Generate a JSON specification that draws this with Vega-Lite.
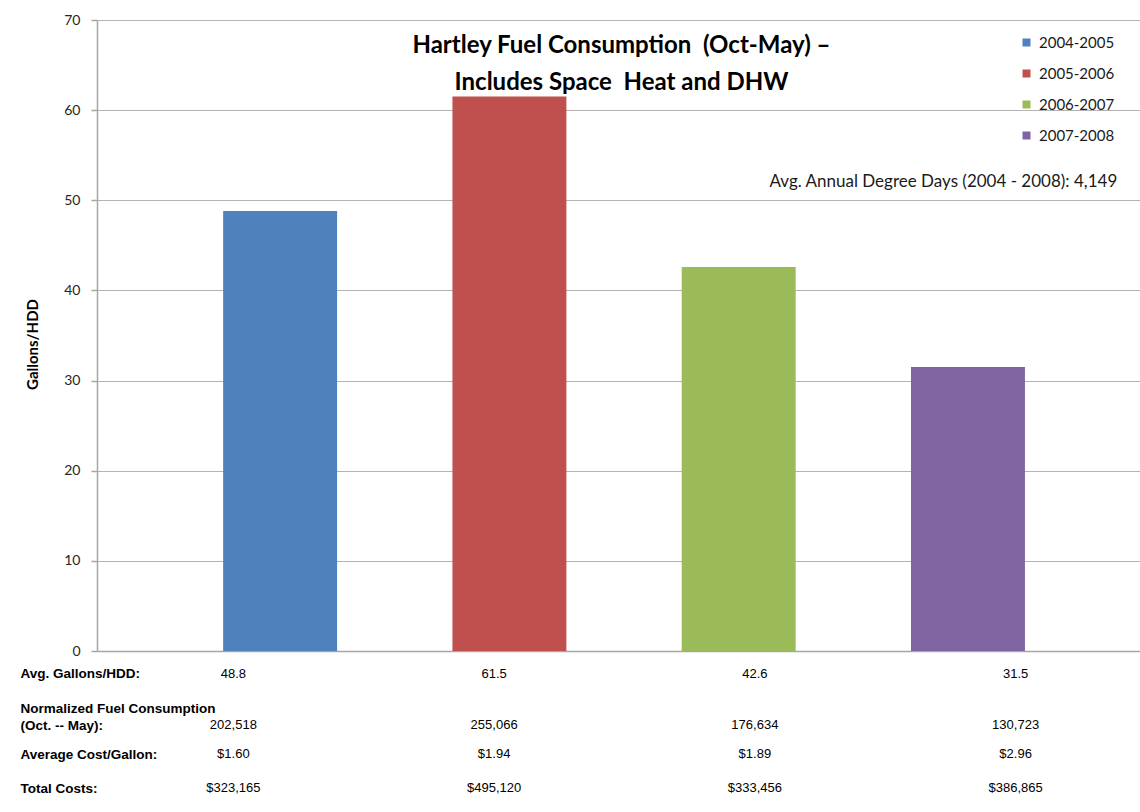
{
  "$schema": "https://vega.github.io/schema/vega-lite/v6.json",
  "padding": {"left": 20, "top": 13, "right": 0, "bottom": 0},
  "autosize": {"type": "pad"},
  "spacing": 3,
  "background": "white",
  "config": {"view": {"stroke": null}, "font": "Lato"},
  "datasets": {
    "seasons": [
      {"season": "2004-2005", "avg_gal_hdd": 48.8, "normalized": 202518, "cost_per_gal": 1.60, "total_cost": 323165},
      {"season": "2005-2006", "avg_gal_hdd": 61.5, "normalized": 255066, "cost_per_gal": 1.94, "total_cost": 495120},
      {"season": "2006-2007", "avg_gal_hdd": 42.6, "normalized": 176634, "cost_per_gal": 1.89, "total_cost": 333456},
      {"season": "2007-2008", "avg_gal_hdd": 31.5, "normalized": 130723, "cost_per_gal": 2.96, "total_cost": 386865}
    ],
    "note": [
      {"season": "2007-2008", "value": 52, "label": "Avg. Annual Degree Days (2004 - 2008): 4,149"}
    ]
  },
  "resolve": {"scale": {"x": "independent", "y": "independent"}},
  "vconcat": [
    {
      "width": 1043,
      "height": 631,
      "title": {
        "text": ["Hartley Fuel Consumption\u00a0 (Oct-May) –", "Includes Space\u00a0 Heat and DHW"],
        "font": "Lato",
        "fontSize": 24,
        "fontWeight": "bold",
        "color": "#000000",
        "lineHeight": 37,
        "anchor": "middle",
        "offset": -82,
        "dx": 3
      },
      "layer": [
        {
          "data": {"name": "seasons"},
          "mark": {"type": "bar"},
          "encoding": {
            "x": {
              "field": "season",
              "type": "nominal",
              "scale": {"domain": ["2004-2005", "2005-2006", "2006-2007", "2007-2008"], "paddingInner": 0.503, "paddingOuter": 0.526, "align": 0.523},
              "axis": {"title": null, "labels": false, "ticks": false, "grid": false, "domain": true, "domainColor": "#a6a6a6", "domainWidth": 1.5}
            },
            "y": {
              "field": "avg_gal_hdd",
              "type": "quantitative",
              "scale": {"domain": [0, 70], "nice": false},
              "axis": {
                "title": "Gallons/HDD",
                "titleFont": "Lato",
                "titleFontSize": 15,
                "titleFontWeight": "bold",
                "titleColor": "#000000",
                "titlePadding": 23,
                "titleY": 324,
                "values": [0, 10, 20, 30, 40, 50, 60, 70],
                "labelFont": "Lato",
                "labelFontSize": 14,
                "labelColor": "#262626",
                "labelPadding": 11,
                "tickSize": 6,
                "tickColor": "#a6a6a6",
                "tickWidth": 1.5,
                "domainColor": "#a6a6a6",
                "domainWidth": 1.5,
                "grid": true,
                "gridColor": "#b3b3b3",
                "gridWidth": 1.2
              }
            },
            "color": {
              "field": "season",
              "type": "nominal",
              "scale": {"domain": ["2004-2005", "2005-2006", "2006-2007", "2007-2008"], "range": ["#4F81BD", "#C0504D", "#9BBB59", "#8064A2"]},
              "legend": {
                "orient": "none",
                "legendX": 922,
                "legendY": 15,
                "title": null,
                "symbolType": "square",
                "symbolSize": 64,
                "symbolStrokeWidth": 0,
                "labelFont": "Lato",
                "labelFontSize": 15,
                "labelColor": "#1a1a1a",
                "labelOffset": 5,
                "rowPadding": 15
              }
            }
          }
        },
        {
          "data": {"name": "note"},
          "mark": {"type": "text", "align": "right", "baseline": "middle", "font": "Lato", "fontSize": 17, "color": "#1a1a1a"},
          "encoding": {
            "x": {"field": "season", "type": "nominal", "bandPosition": 1.81},
            "y": {"field": "value", "type": "quantitative"},
            "text": {"field": "label"}
          }
        }
      ]
    },
    {
      "width": 1043,
      "height": 149,
      "data": {"name": "seasons"},
      "encoding": {
        "x": {
          "field": "season",
          "type": "nominal",
          "scale": {"domain": ["2004-2005", "2005-2006", "2006-2007", "2007-2008"], "paddingInner": 0.503, "paddingOuter": 0.526, "align": 0.523},
          "axis": null
        }
      },
      "layer": [
        {
          "mark": {"type": "text", "font": "Liberation Sans", "fontSize": 13, "color": "#000000", "baseline": "middle", "dy": -6},
          "encoding": {
            "y": {
              "datum": "Avg. Gallons/HDD:",
              "type": "nominal",
              "scale": {"domain": ["Avg. Gallons/HDD:", "Normalized Fuel Consumption (Oct. -- May):", "Average Cost/Gallon:", "Total Costs:"], "padding": 0.5},
              "axis": {
                "title": null,
                "domain": false,
                "ticks": false,
                "tickSize": 0,
                "grid": false,
                "labelAlign": "left",
                "labelBaseline": "middle",
                "labelPadding": 77,
                "labelLimit": 400,
                "labelFont": "Liberation Sans",
                "labelFontSize": 13.5,
                "labelFontWeight": "bold",
                "labelColor": "#000000",
                "labelLineHeight": 17,
                "labelOffset": {
                  "condition": [
                    {"test": "datum.value == 'Normalized Fuel Consumption (Oct. -- May):'", "value": -8.5},
                    {"test": "datum.value == 'Avg. Gallons/HDD:'", "value": -6},
                    {"test": "datum.value == 'Total Costs:'", "value": -3}
                  ],
                  "value": 0
                },
                "labelExpr": "datum.label == 'Normalized Fuel Consumption (Oct. -- May):' ? ['Normalized Fuel Consumption', '(Oct. -- May):'] : datum.label"
              }
            },
            "text": {"field": "avg_gal_hdd", "type": "quantitative", "format": ".1f"}
          }
        },
        {
          "mark": {"type": "text", "font": "Liberation Sans", "fontSize": 13, "color": "#000000", "baseline": "middle", "dy": 8},
          "encoding": {
            "y": {"datum": "Normalized Fuel Consumption (Oct. -- May):", "type": "nominal"},
            "text": {"field": "normalized", "type": "quantitative", "format": ",.0f"}
          }
        },
        {
          "mark": {"type": "text", "font": "Liberation Sans", "fontSize": 13, "color": "#000000", "baseline": "middle"},
          "encoding": {
            "y": {"datum": "Average Cost/Gallon:", "type": "nominal"},
            "text": {"field": "cost_per_gal", "type": "quantitative", "format": "$.2f"}
          }
        },
        {
          "mark": {"type": "text", "font": "Liberation Sans", "fontSize": 13, "color": "#000000", "baseline": "middle", "dy": -3},
          "encoding": {
            "y": {"datum": "Total Costs:", "type": "nominal"},
            "text": {"field": "total_cost", "type": "quantitative", "format": "$,.0f"}
          }
        }
      ]
    }
  ]
}
